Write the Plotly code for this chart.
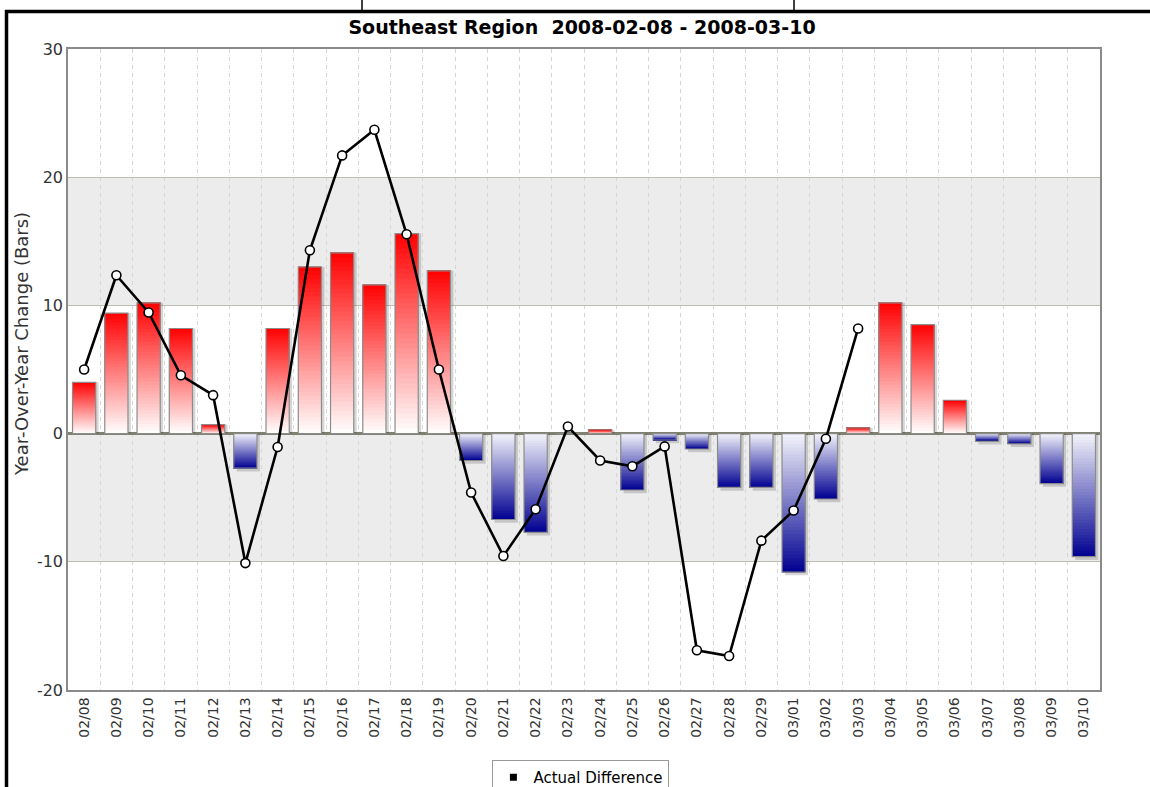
import plotly.graph_objects as go

dates = ["02/08", "02/09", "02/10", "02/11", "02/12", "02/13", "02/14", "02/15",
         "02/16", "02/17", "02/18", "02/19", "02/20", "02/21", "02/22", "02/23",
         "02/24", "02/25", "02/26", "02/27", "02/28", "02/29", "03/01", "03/02",
         "03/03", "03/04", "03/05", "03/06", "03/07", "03/08", "03/09", "03/10"]

bar_values = [4.0, 9.4, 10.2, 8.2, 0.7, -2.7, 8.2, 13.0,
              14.1, 11.6, 15.6, 12.7, -2.1, -6.7, -7.7, 0.0,
              0.3, -4.4, -0.5, -1.2, -4.2, -4.2, -10.8, -5.1,
              0.45, 10.2, 8.5, 2.6, -0.6, -0.8, -3.9, -9.6]

line_dates = dates[:25]
line_values = [5.0, 12.35, 9.45, 4.55, 3.0, -10.1, -1.05, 14.3,
               21.7, 23.7, 15.55, 5.0, -4.6, -9.55, -5.9, 0.55,
               -2.1, -2.55, -1.0, -16.9, -17.35, -8.35, -6.0, -0.4,
               8.2]

y_tick_values = [-20, -10, 0, 10, 20, 30]
y_tick_labels = ["-20", "-10", "0", "10", "20", "30"]

title_text = "Southeast Region\u00a0 2008-02-08 - 2008-03-10"
y_title = "Year-Over-Year Change (Bars)"
legend_name = "Actual Difference"

FONT = "DejaVu Sans"
BAR_W = 0.72
N_SLICES = 40


def mix(c0, c1, t):
    return "rgb({},{},{})".format(*[int(round(a + (b - a) * t)) for a, b in zip(c0, c1)])


POS_LOW, POS_HIGH = (255, 255, 255), (255, 0, 0)
NEG_LOW, NEG_HIGH = (245, 245, 252), (0, 0, 145)

fig = go.Figure()

# soft shadow
shadow_y = [v - 0.25 if v < 0 else v for v in bar_values]
fig.add_trace(go.Bar(x=dates, y=shadow_y, width=BAR_W, offset=-BAR_W / 2 + 0.09,
                     marker=dict(color="rgba(0,0,0,0.16)", line=dict(width=0)),
                     showlegend=False, hoverinfo="skip"))

# gradient bars built from overlapping slices
for k in range(N_SLICES):
    t = (k + 0.5) / N_SLICES
    bases = [v * k / N_SLICES for v in bar_values]
    heights = [v - v * k / N_SLICES for v in bar_values]
    colors = [mix(POS_LOW, POS_HIGH, t) if v >= 0 else mix(NEG_LOW, NEG_HIGH, t)
              for v in bar_values]
    fig.add_trace(go.Bar(x=dates, y=heights, base=bases, width=BAR_W,
                         marker=dict(color=colors, line=dict(width=0)),
                         showlegend=False, hoverinfo="skip"))

# outline
fig.add_trace(go.Bar(x=dates, y=bar_values, width=BAR_W,
                     marker=dict(color="rgba(0,0,0,0)", line=dict(color="#8c8c8c", width=1.2)),
                     showlegend=False, hoverinfo="x+y"))

# line
fig.add_trace(go.Scatter(x=line_dates, y=line_values, mode="lines+markers",
                         line=dict(color="black", width=2.6),
                         marker=dict(size=9, color="white", line=dict(color="black", width=1.6)),
                         showlegend=False))

# legend entry
fig.add_trace(go.Scatter(x=[dates[0]], y=[None], mode="markers", name=legend_name,
                         marker=dict(symbol="square", size=7, color="black")))

shapes = [
    dict(type="rect", xref="paper", x0=0, x1=1, yref="y", y0=10, y1=20,
         fillcolor="#ececec", line=dict(width=0), layer="below"),
    dict(type="rect", xref="paper", x0=0, x1=1, yref="y", y0=-10, y1=0,
         fillcolor="#ececec", line=dict(width=0), layer="below"),
]

# page frame around the chart
L, T, W, H = 68, 49, 1032, 641
def px(xp):
    return (xp - L) / W
def py(yp):
    return (T + H - yp) / H

frame = dict(color="black", width=3.5)
shapes += [
    dict(type="line", xref="paper", yref="paper", x0=px(6.5), x1=px(6.5), y0=py(790), y1=py(10), line=frame),
    dict(type="line", xref="paper", yref="paper", x0=px(5), x1=px(1152), y0=py(11.5), y1=py(11.5), line=frame),
    dict(type="line", xref="paper", yref="paper", x0=px(362), x1=px(362), y0=py(11.5), y1=py(-2), line=dict(color="black", width=1.5)),
    dict(type="line", xref="paper", yref="paper", x0=px(794), x1=px(794), y0=py(11.5), y1=py(-2), line=dict(color="black", width=1.5)),
]

annotations = [
    dict(text=y_title, textangle=-90, xref="paper", yref="paper",
         x=px(21), y=py(344), xanchor="center", yanchor="middle", showarrow=False,
         font=dict(family=FONT, size=18, color="#333333")),
]

fig.update_layout(
    width=1150, height=787,
    margin=dict(l=L, r=1150 - L - W, t=T, b=787 - T - H, autoexpand=False),
    paper_bgcolor="white", plot_bgcolor="white",
    barmode="overlay",
    font=dict(family=FONT, size=14, color="#333333"),
    title=dict(text=title_text, x=582 / 1150, xref="container", xanchor="center",
               y=1 - 27 / 787, yref="container", yanchor="middle",
               font=dict(family=FONT, size=19, color="black", weight="bold")),
    shapes=shapes,
    annotations=annotations,
    showlegend=True,
    legend=dict(orientation="h", x=0.497, xanchor="center", y=py(760), yanchor="top",
                bgcolor="white", bordercolor="#999999", borderwidth=1,
                font=dict(family=FONT, size=15, color="black"), itemwidth=30),
    xaxis=dict(type="category", categoryorder="array", categoryarray=dates,
               range=[-0.5, len(dates) - 0.5],
               tickson="boundaries", showgrid=True, gridcolor="#d6d6d6", griddash="4px,4px",
               gridwidth=1, tickangle=-90, ticks="", showline=True, linecolor="#8a8a8a",
               linewidth=1.5, mirror=True, tickfont=dict(size=14, color="#333333"),
               automargin=False),
    yaxis=dict(range=[-20, 30], tickmode="array", tickvals=y_tick_values, ticktext=y_tick_labels,
               showgrid=True, gridcolor="#bdbdb5",
               gridwidth=1, zeroline=True, zerolinecolor="#808070", zerolinewidth=2.5,
               showline=True, linecolor="#8a8a8a", linewidth=1.5, mirror=True, ticks="",
               tickfont=dict(size=16, color="#333333"), automargin=False),
)

fig.write_html("out.html", config={"displayModeBar": False},
               post_script="document.body.style.margin='0';")
